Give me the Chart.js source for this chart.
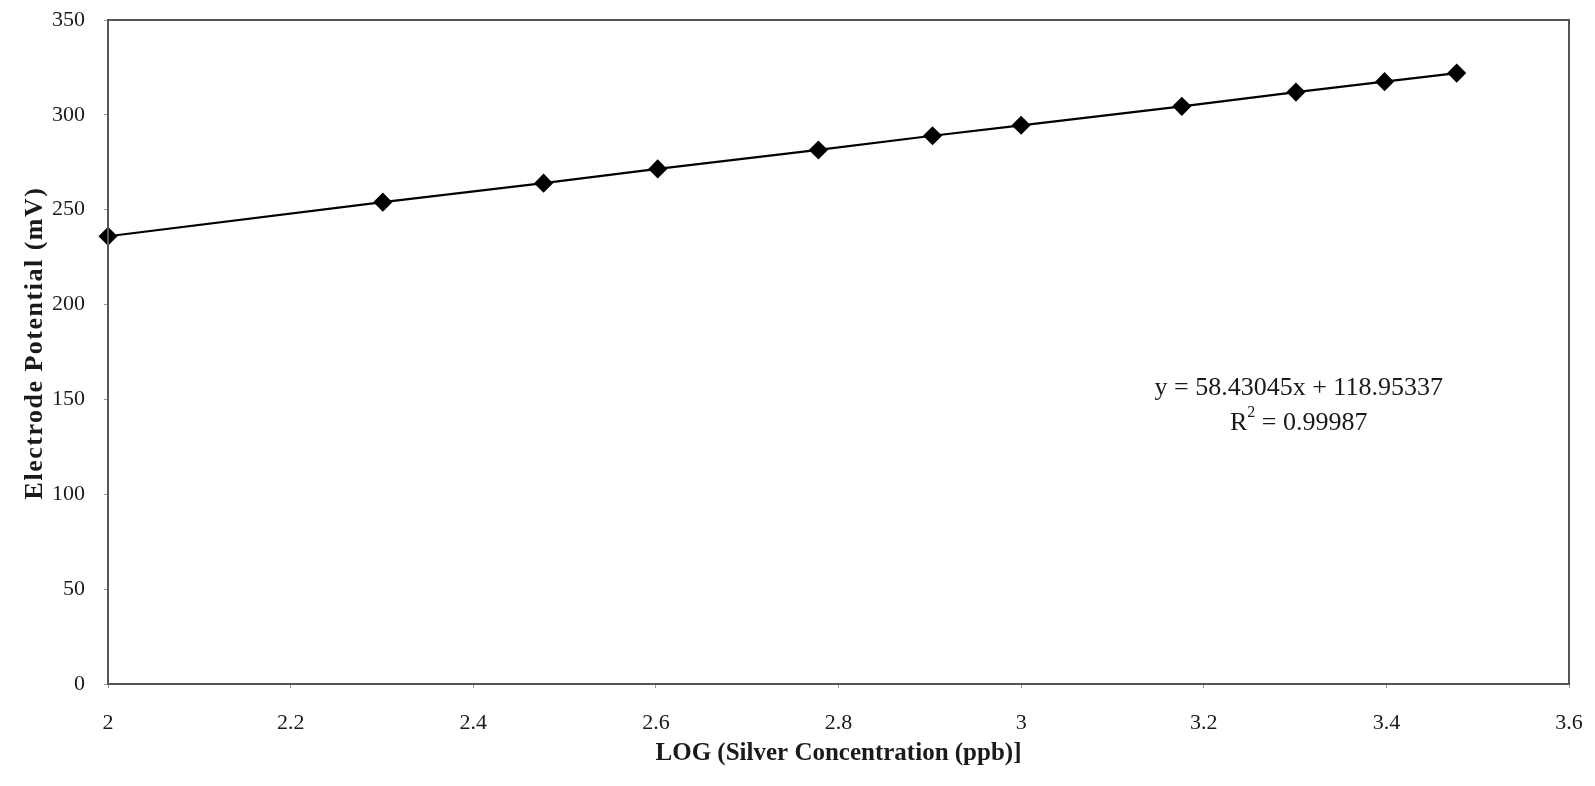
<!DOCTYPE html>
<html>
<head>
<meta charset="utf-8">
<script src="https://cdn.jsdelivr.net/npm/chart.js@4"></script>
<style>
html,body{margin:0;padding:0;background:#fff;}
#wrap{width:1595px;height:786px;position:relative;}
</style>
</head>
<body>
<div id="wrap"><canvas id="c" width="1595" height="786"></canvas></div>
<script>
// Data
const logConc = [2, 2.301, 2.477, 2.602, 2.778, 2.903, 3, 3.176, 3.301, 3.398, 3.477];
const potential = [236, 254, 264, 271.5, 281.5, 289, 294.5, 304.5, 312, 317.5, 322];
const xTickMin = 2, xTickMax = 3.6, xTickStep = 0.2;
const yTickMin = 0, yTickMax = 350, yTickStep = 50;
const xTitle = "LOG (Silver Concentration (ppb)]";
const yTitle = "Electrode Potential (mV)";
const eqLine1 = "y = 58.43045x + 118.95337";
const eqLine2Pre = "R", eqLine2Sup = "2", eqLine2Post = " = 0.99987";
const eqPos = {x: 3.304, y1: 156, y2: 137.5};

const serif = "'Liberation Serif', 'Times New Roman', serif";

const framePlugin = {
  id: 'frame',
  afterDatasetsDraw(chart) {
    const {ctx, chartArea: a} = chart;
    ctx.save();
    ctx.strokeStyle = '#555';
    ctx.lineWidth = 2;
    ctx.strokeRect(a.left, a.top, a.right - a.left, a.bottom - a.top);
    ctx.restore();
  }
};

const yTitlePlugin = {
  id: 'ytitle',
  afterDraw(chart) {
    const {ctx, chartArea: a} = chart;
    ctx.save();
    ctx.translate(35, (a.top + a.bottom) / 2 - 9);
    ctx.rotate(-Math.PI / 2);
    ctx.fillStyle = '#1a1a1a';
    ctx.font = "bold 26px " + serif;
    try { ctx.letterSpacing = '1.5px'; } catch (e) {}
    ctx.textAlign = 'center';
    ctx.textBaseline = 'middle';
    ctx.fillText(yTitle, 0, 0);
    ctx.restore();
  }
};

const eqPlugin = {
  id: 'eq',
  afterDraw(chart) {
    const {ctx, scales} = chart;
    const cx = scales.x.getPixelForValue(eqPos.x);
    const y1 = scales.y.getPixelForValue(eqPos.y1);
    const y2 = scales.y.getPixelForValue(eqPos.y2);
    ctx.save();
    ctx.fillStyle = '#1a1a1a';
    ctx.font = "26px " + serif;
    ctx.textBaseline = 'middle';
    ctx.textAlign = 'center';
    ctx.fillText(eqLine1, cx, y1);
    const wPre = ctx.measureText(eqLine2Pre).width;
    const wPost = ctx.measureText(eqLine2Post).width;
    ctx.font = "16px " + serif;
    const wSup = ctx.measureText(eqLine2Sup).width;
    const total = wPre + wSup + wPost;
    let x = cx - total / 2;
    ctx.textAlign = 'left';
    ctx.font = "26px " + serif;
    ctx.fillText(eqLine2Pre, x, y2);
    x += wPre;
    ctx.font = "16px " + serif;
    ctx.fillText(eqLine2Sup, x, y2 - 10);
    x += wSup;
    ctx.font = "26px " + serif;
    ctx.fillText(eqLine2Post, x, y2);
    ctx.restore();
  }
};

new Chart(document.getElementById('c'), {
  type: 'scatter',
  data: {
    datasets: [{
      data: logConc.map((x, i) => ({x, y: potential[i]})),
      showLine: true,
      borderColor: '#000',
      borderWidth: 2.2,
      backgroundColor: '#000',
      pointStyle: 'rectRot',
      pointRadius: 8,
      pointHoverRadius: 8,
      clip: false
    }]
  },
  options: {
    responsive: false,
    animation: false,
    devicePixelRatio: 1,
    layout: {padding: {top: 20, right: 26, left: 0, bottom: 0}},
    plugins: {legend: {display: false}, tooltip: {enabled: false}},
    scales: {
      x: {
        type: 'linear',
        min: xTickMin, max: xTickMax,
        ticks: {stepSize: xTickStep, color: '#1a1a1a', font: {family: serif, size: 22}, padding: 22, maxRotation: 0,
          callback: v => String(Math.round(v * 10) / 10)},
        grid: {display: true, drawOnChartArea: false, drawTicks: true, tickLength: 4, color: '#999'},
        border: {display: false},
        title: {display: true, text: xTitle, color: '#1a1a1a', font: {family: serif, size: 25, weight: 'bold'}, padding: {top: 0, bottom: 17}},
        afterFit(s) { s.height = 102; s.paddingLeft = 0; s.paddingRight = 0; }
      },
      y: {
        type: 'linear',
        min: yTickMin, max: yTickMax,
        ticks: {stepSize: yTickStep, color: '#1a1a1a', font: {family: serif, size: 22}, padding: 19},
        grid: {display: true, drawOnChartArea: false, drawTicks: true, tickLength: 4, color: '#999'},
        border: {display: false},
        title: {display: false, text: yTitle},
        afterFit(s) { s.width = 108; s.paddingTop = 0; s.paddingBottom = 0; }
      }
    }
  },
  plugins: [framePlugin, eqPlugin, yTitlePlugin]
});
</script>
</body>
</html>
